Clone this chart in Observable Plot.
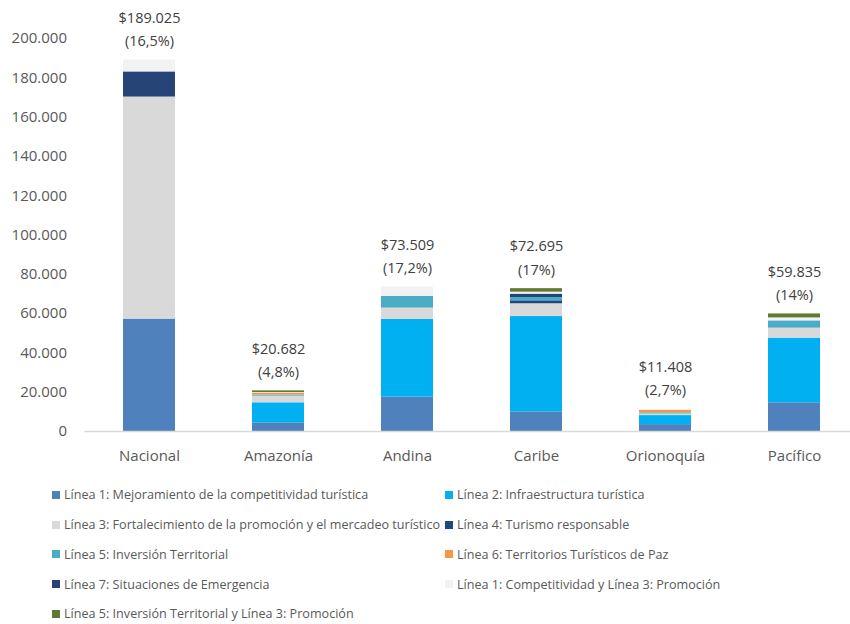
<!DOCTYPE html>
<html>
<head>
<meta charset="utf-8">
<script src="https://cdn.jsdelivr.net/npm/d3@7"></script>
<script src="https://cdn.jsdelivr.net/npm/@observablehq/plot@0.6"></script>
<style>
  body { margin: 0; background: #fff; font-family: "Open Sans", sans-serif; }
  #chart { width: 850px; }
  #legend { display: grid; grid-template-columns: 393px 400px; padding-left: 52px; }
  .item { height: 29.75px; display: flex; align-items: center; font-size: 12.6px; color: #595959; white-space: nowrap; }
  .sw { width: 8px; height: 8px; margin-right: 4px; flex: none; }
</style>
</head>
<body>
<div id="chart"></div>
<div id="legend"></div>
<script>
const categories = ["Nacional", "Amazonía", "Andina", "Caribe", "Orionoquía", "Pacífico"];
const seriesNames = [
  "Línea 1: Mejoramiento de la competitividad turística",
  "Línea 2: Infraestructura turística",
  "Línea 3: Fortalecimiento de la promoción y el mercadeo turístico",
  "Línea 4: Turismo responsable",
  "Línea 5: Inversión Territorial",
  "Línea 6: Territorios Turísticos de Paz",
  "Línea 7: Situaciones de Emergencia",
  "Línea 1: Competitividad y Línea 3: Promoción",
  "Línea 5: Inversión Territorial y Línea 3: Promoción"
];
const colors = ["#4F81BD", "#00B0F0", "#D9D9D9", "#1F497D", "#4BACC6", "#F79646", "#264478", "#F2F2F2", "#5E7B31"];

// values per category (millions), in category order
const linea1   = [57200,  4400, 17500, 10000, 3500, 14600];
const linea2   = [    0, 10200, 39500, 48500, 4600, 32900];
const linea3   = [113000, 3400,  5800,  6500,  800,  5100];
const linea4   = [    0,     0,     0,  1500,    0,     0];
const linea5   = [    0,   600,  6000,  1700,  600,  3700];
const linea6   = [    0,   900,     0,     0, 1200,     0];
const linea7   = [12800,     0,     0,  1700,    0,     0];
const linea1y3 = [ 6025,   300,  4709,  1000,  708,  1500];
const linea5y3 = [    0,   882,     0,  1795,    0,  2035];

const totals = [189025, 20682, 73509, 72695, 11408, 59835];
const shares = [16.5, 4.8, 17.2, 17, 2.7, 14];

const seriesValues = [linea1, linea2, linea3, linea4, linea5, linea6, linea7, linea1y3, linea5y3];
const rows = seriesValues.flatMap((vals, s) =>
  vals.map((v, i) => ({ region: categories[i], serie: seriesNames[s], value: v }))
).filter(d => d.value > 0);

const loc = d3.formatLocale({ decimal: ",", thousands: ".", grouping: [3], currency: ["$", ""] });
const fmtInt = loc.format(",");
const fmtPct = v => loc.format(",")(v) + "%";

const labels = categories.map((c, i) => ({
  region: c, total: totals[i],
  text: "$" + fmtInt(totals[i]) + "\n(" + fmtPct(shares[i]) + ")"
}));

const chart = Plot.plot({
  width: 850,
  height: 480,
  marginTop: 38,
  marginBottom: 49,
  marginLeft: 84.5,
  marginRight: 0,
  style: { fontFamily: "Open Sans, sans-serif", color: "#595959", background: "#fff" },
  x: { domain: categories, range: [84.5, 859], paddingInner: 0.6, paddingOuter: 0.3, label: null },
  y: { domain: [0, 200000], ticks: d3.range(0, 200001, 20000), label: null },
  color: { domain: seriesNames, range: colors },
  marks: [
    Plot.barY(rows, { x: "region", y: "value", fill: "serie" }),
    Plot.ruleY([0], { stroke: "#D9D9D9", strokeWidth: 1.5 }),
    Plot.axisY({ ticks: d3.range(0, 200001, 20000), tickFormat: fmtInt, tickSize: 0, tickPadding: 18, fontSize: 15, fill: "#595959", label: null }),
    Plot.axisX({ tickSize: 0, tickPadding: 19, fontSize: 15, fill: "#595959", label: null }),
    Plot.text(labels, { x: "region", y: "total", text: "text", lineAnchor: "bottom", dy: -14, fontSize: 14.5, lineHeight: 1.6, fill: "#404040" })
  ]
});
document.getElementById("chart").appendChild(chart);

const legend = document.getElementById("legend");
seriesNames.forEach((name, i) => {
  const item = document.createElement("div");
  item.className = "item";
  const sw = document.createElement("span");
  sw.className = "sw";
  sw.style.background = colors[i];
  item.appendChild(sw);
  item.appendChild(document.createTextNode(name));
  legend.appendChild(item);
});
</script>
</body>
</html>
